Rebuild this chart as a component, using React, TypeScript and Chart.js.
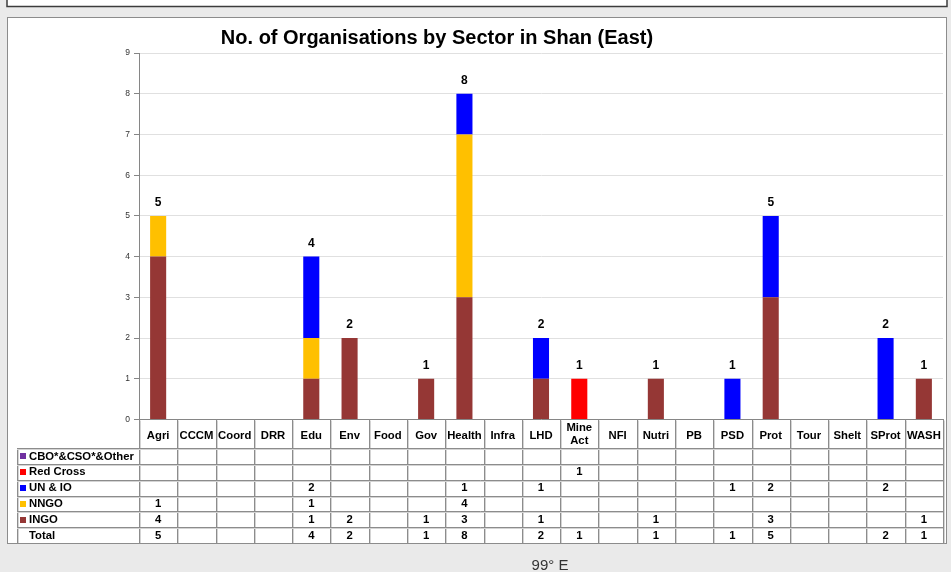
import React, { useEffect, useRef } from "react";
import { Chart, registerables } from "chart.js";

Chart.register(...registerables);

const categories = ["Agri", "CCCM", "Coord", "DRR", "Edu", "Env", "Food", "Gov", "Health", "Infra", "LHD", "Mine Act", "NFI", "Nutri", "PB", "PSD", "Prot", "Tour", "Shelt", "SProt", "WASH"];
const ingo = [4, 0, 0, 0, 1, 2, 0, 1, 3, 0, 1, 0, 0, 1, 0, 0, 3, 0, 0, 0, 1];
const nngo = [1, 0, 0, 0, 1, 0, 0, 0, 4, 0, 0, 0, 0, 0, 0, 0, 0, 0, 0, 0, 0];
const unIo = [0, 0, 0, 0, 2, 0, 0, 0, 1, 0, 1, 0, 0, 0, 0, 1, 2, 0, 0, 2, 0];
const redCross = [0, 0, 0, 0, 0, 0, 0, 0, 0, 0, 0, 1, 0, 0, 0, 0, 0, 0, 0, 0, 0];
const cboOther = [0, 0, 0, 0, 0, 0, 0, 0, 0, 0, 0, 0, 0, 0, 0, 0, 0, 0, 0, 0, 0];
const seriesNames = ["INGO", "NNGO", "UN & IO", "Red Cross", "CBO*&CSO*&Other"];
const seriesColors = ["#953735", "#FFC000", "#0000FF", "#FF0000", "#7030A0"];
const yMin = 0;
const yMax = 9;
const title = "No. of Organisations by Sector in Shan (East)";
const footnote = "99° E";

const FONT = "'Liberation Sans', Arial, Helvetica, sans-serif";

const seriesData = [ingo, nngo, unIo, redCross, cboOther];
const totals = categories.map((_, i) => seriesData.reduce((s, arr) => s + arr[i], 0));

const decorPlugin = {
  id: "decor",
  beforeDraw(chart: any) {
    const ctx = chart.ctx;
    ctx.save();
    ctx.fillStyle = "#EAEAEA";
    ctx.fillRect(0, 0, chart.width, chart.height);
    // top box (partially visible)
    ctx.fillStyle = "#FFFFFF";
    ctx.fillRect(7, -2, 940, 9);
    ctx.strokeStyle = "#3C3C3C";
    ctx.lineWidth = 1.5;
    ctx.strokeRect(7, -2, 940, 8.5);
    // chart box
    ctx.fillStyle = "#FFFFFF";
    ctx.fillRect(7, 17, 940, 527);
    ctx.strokeStyle = "#8C8C8C";
    ctx.lineWidth = 1;
    ctx.strokeRect(7.5, 17.5, 939, 526);
    // title
    ctx.fillStyle = "#000000";
    ctx.font = `bold 20px ${FONT}`;
    ctx.textAlign = "center";
    ctx.textBaseline = "alphabetic";
    ctx.fillText(title, 437, 44);
    // footnote
    ctx.fillStyle = "#333333";
    ctx.font = `15px ${FONT}`;
    ctx.fillText(footnote, 550, 570);
    ctx.restore();
  },
  afterDraw(chart: any) {
    const ctx = chart.ctx;
    const area = chart.chartArea;
    const xs = chart.scales.x;
    const ys = chart.scales.y;
    const n = categories.length;
    const cw = (area.right - area.left) / n;
    const headerTop = area.bottom;
    const tableTop = 448;
    const rowH = 15.85;
    const rows = 6;
    const tableBottom = tableTop + rowH * rows;
    const tableLeft = 17;
    ctx.save();

    // total labels above bars
    ctx.fillStyle = "#000000";
    ctx.font = `bold 12px ${FONT}`;
    ctx.textAlign = "center";
    ctx.textBaseline = "middle";
    totals.forEach((t, i) => {
      if (t > 0) {
        ctx.fillText(String(t), xs.getPixelForValue(i), ys.getPixelForValue(t) - 13);
      }
    });

    // grid lines of table
    const line = (x1: number, y1: number, x2: number, y2: number, color: string) => {
      ctx.strokeStyle = color;
      ctx.lineWidth = 1;
      ctx.beginPath();
      ctx.moveTo(x1, y1);
      ctx.lineTo(x2, y2);
      ctx.stroke();
    };
    for (let i = 0; i <= n; i++) {
      const x = Math.round(area.left + i * cw) + 0.5;
      line(x + 1, headerTop + 1, x + 1, tableBottom, "#D4D4D4");
      line(x, headerTop, x, tableBottom, "#8C8C8C");
    }
    const lx = tableLeft + 0.5;
    line(lx + 1, tableTop, lx + 1, tableBottom, "#D4D4D4");
    line(lx, tableTop, lx, tableBottom, "#8C8C8C");
    for (let r = 0; r <= rows; r++) {
      const y = Math.round(tableTop + r * rowH) + 0.5;
      if (r < rows) line(tableLeft, y + 1, area.right, y + 1, "#D4D4D4");
      line(tableLeft, y, Math.round(area.right) + 0.5, y, "#8C8C8C");
    }

    // header labels
    ctx.fillStyle = "#000000";
    ctx.font = `bold 11.3px ${FONT}`;
    ctx.textAlign = "center";
    ctx.textBaseline = "middle";
    categories.forEach((c, i) => {
      const cx = xs.getPixelForValue(i);
      const parts = c.split(" ");
      if (parts.length > 1) {
        ctx.fillText(parts[0], cx, 427.5);
        ctx.fillText(parts.slice(1).join(" "), cx, 441);
      } else {
        ctx.fillText(c, cx, 436);
      }
    });

    // table rows: top to bottom CBO, Red Cross, UN & IO, NNGO, INGO, Total
    const order = [4, 3, 2, 1, 0];
    order.forEach((si, r) => {
      const cy = tableTop + r * rowH + rowH / 2 + 0.5;
      ctx.fillStyle = seriesColors[si];
      ctx.fillRect(20, Math.round(cy - 3), 6, 6);
      ctx.fillStyle = "#000000";
      ctx.textAlign = "left";
      ctx.fillText(seriesNames[si], 29, cy);
      ctx.textAlign = "center";
      seriesData[si].forEach((v, i) => {
        if (v > 0) ctx.fillText(String(v), xs.getPixelForValue(i), cy);
      });
    });
    const ty = tableTop + 5 * rowH + rowH / 2 + 0.5;
    ctx.textAlign = "left";
    ctx.fillText("Total", 29, ty);
    ctx.textAlign = "center";
    totals.forEach((t, i) => {
      if (t > 0) ctx.fillText(String(t), xs.getPixelForValue(i), ty);
    });
    ctx.restore();
  },
};

export default function App() {
  const ref = useRef<HTMLCanvasElement | null>(null);
  useEffect(() => {
    if (!ref.current) return;
    const chart = new Chart(ref.current, {
      type: "bar",
      data: {
        labels: categories,
        datasets: seriesData.map((d, i) => ({
          label: seriesNames[i],
          data: d,
          backgroundColor: seriesColors[i],
          borderWidth: 0,
          barPercentage: 0.42,
          categoryPercentage: 1,
        })),
      },
      options: {
        responsive: false,
        animation: false,
        devicePixelRatio: 1,
        layout: { padding: { left: 0, top: 53, right: 8, bottom: 152.5 } },
        plugins: {
          legend: { display: false },
          tooltip: { enabled: false },
          title: { display: false },
        },
        scales: {
          x: {
            stacked: true,
            ticks: { display: false },
            grid: { display: false },
            border: { display: true, color: "#868686", width: 1 },
            afterFit: (s: any) => {
              s.height = 0;
            },
          },
          y: {
            stacked: true,
            min: yMin,
            max: yMax,
            ticks: {
              stepSize: 1,
              padding: 4,
              color: "#333333",
              font: { family: FONT, size: 8.5 },
            },
            grid: { color: "#E0E0E0", tickLength: 5, tickColor: "#868686" },
            border: { display: true, color: "#868686", width: 1 },
            afterFit: (s: any) => {
              s.width = 139;
            },
          },
        },
      },
      plugins: [decorPlugin],
    });
    return () => chart.destroy();
  }, []);
  return (
    <div style={{ position: "fixed", left: 0, top: 0, width: 951, height: 572 }}>
      <canvas ref={ref} width={951} height={572} style={{ display: "block" }} />
    </div>
  );
}
